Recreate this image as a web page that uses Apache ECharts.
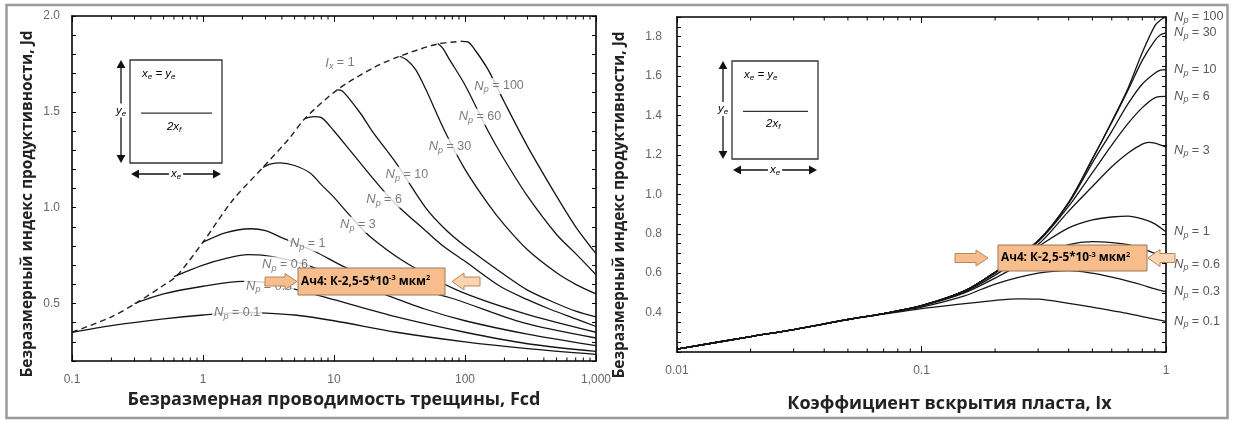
<!DOCTYPE html>
<html>
<head>
<meta charset="utf-8">
<script src="https://cdn.jsdelivr.net/npm/echarts@6/dist/echarts.min.js"></script>
<style>
html, body { margin: 0; padding: 0; background: #fff; }
#chart { width: 1233px; height: 421px; }
</style>
</head>
<body>
<div id="chart"></div>
<script>
// ---- left panel: Jd vs Fcd ([Fcd, Jd]) ----
const fcdTickLabels = ['0.1', '1', '10', '100', '1,000'];
const jdLeftTickLabels = ['0.5', '1.0', '1.5', '2.0'];

const envelopeIx1 = [[0.1,0.35],[0.2,0.43],[0.313,0.505],[0.5,0.595],[0.632,0.645],[1,0.82],[1.69,1.04],[2.87,1.21],[4.6,1.365],[6,1.465],[10.6,1.615],[20,1.73],[31.7,1.79],[62,1.854],[95,1.868]];
const fcdNp100 = [[95,1.868],[105,1.865],[120,1.82],[150,1.72],[200,1.55],[300,1.32],[500,1.06],[700,0.9],[1000,0.76]];
const fcdNp60 = [[62,1.856],[68,1.83],[75,1.78],[100,1.64],[150,1.4],[200,1.25],[300,1.06],[500,0.86],[700,0.76],[1000,0.65]];
const fcdNp30 = [[31.7,1.79],[36,1.77],[42,1.72],[50,1.62],[70,1.4],[100,1.2],[150,1.02],[200,0.91],[300,0.78],[500,0.66],[700,0.6],[1000,0.55]];
const fcdNp10 = [[10.6,1.615],[11.5,1.61],[13,1.57],[16,1.49],[20,1.39],[30,1.23],[50,1.0],[70,0.89],[100,0.8],[200,0.65],[300,0.57],[500,0.5],[700,0.46],[1000,0.43]];
const fcdNp6 = [[6,1.465],[7,1.475],[8,1.47],[10,1.4],[13.2,1.3],[22.4,1.11],[31.7,1.0],[50,0.88],[68,0.8],[100,0.72],[185,0.59],[300,0.52],[446,0.47],[700,0.42],[1000,0.38]];
const fcdNp3 = [[2.87,1.21],[3.3,1.228],[3.9,1.234],[5,1.22],[6.6,1.18],[8,1.12],[9.8,1.06],[13.2,0.96],[18.8,0.85],[36,0.71],[87,0.57],[277,0.45],[1000,0.35]];
const fcdNp1 = [[1,0.82],[1.5,0.87],[2.3,0.89],[3,0.88],[4.1,0.84],[7.2,0.77],[13,0.68],[30,0.6],[77,0.53],[277,0.4],[1000,0.32]];
const fcdNp06 = [[0.6,0.64],[1,0.7],[1.5,0.735],[2.2,0.755],[3,0.75],[5,0.72],[10,0.65],[20,0.57],[50,0.47],[100,0.41],[300,0.34],[1000,0.28]];
const fcdNp03 = [[0.3,0.5],[0.5,0.55],[1,0.59],[2,0.615],[3,0.61],[5,0.575],[10,0.52],[30,0.43],[100,0.35],[300,0.29],[1000,0.25]];
const fcdNp01 = [[0.1,0.35],[0.2,0.385],[0.5,0.42],[1,0.44],[2,0.452],[3,0.45],[5,0.44],[10,0.41],[30,0.35],[100,0.3],[300,0.265],[1000,0.235]];

const leftLabelNp = ['100', '60', '30', '10', '6', '3', '1', '0.6', '0.3', '0.1'];
const leftLabelAt = [[182,1.635],[130,1.474],[76.8,1.318],[36,1.172],[24.1,1.042],[15.2,0.911],[6.3,0.8125],[4.23,0.703],[3.19,0.589],[1.82,0.453]];
const ixLabelAt = [11.1, 1.755];

// ---- right panel: Jd vs Ix ([Ix, Jd]) ----
const ixTickLabels = ['0.01', '0.1', '1'];
const jdRightTickLabels = ['0.4', '0.6', '0.8', '1.0', '1.2', '1.4', '1.6', '1.8'];

const ixNp100 = [[0.01,0.215],[0.02,0.278],[0.03,0.314],[0.05,0.365],[0.07,0.395],[0.1,0.435],[0.15,0.51],[0.2,0.605],[0.3,0.765],[0.4,0.96],[0.5,1.18],[0.6,1.37],[0.7,1.54],[0.8,1.72],[0.9,1.855],[0.95,1.885],[1,1.9]];
const ixNp30 = [[0.01,0.215],[0.02,0.278],[0.03,0.314],[0.05,0.365],[0.07,0.395],[0.1,0.435],[0.15,0.51],[0.2,0.605],[0.3,0.765],[0.4,0.96],[0.5,1.18],[0.6,1.365],[0.7,1.53],[0.8,1.68],[0.9,1.78],[0.95,1.81],[1,1.82]];
const ixNp10 = [[0.01,0.215],[0.02,0.278],[0.03,0.314],[0.05,0.365],[0.07,0.395],[0.1,0.435],[0.15,0.51],[0.2,0.605],[0.3,0.765],[0.4,0.955],[0.5,1.16],[0.6,1.32],[0.7,1.46],[0.8,1.56],[0.9,1.615],[0.95,1.63],[1,1.633]];
const ixNp6 = [[0.01,0.215],[0.02,0.278],[0.03,0.314],[0.05,0.365],[0.07,0.395],[0.1,0.435],[0.15,0.51],[0.2,0.605],[0.3,0.76],[0.4,0.94],[0.5,1.11],[0.6,1.25],[0.7,1.36],[0.8,1.44],[0.9,1.49],[1,1.497]];
const ixNp3 = [[0.01,0.215],[0.02,0.278],[0.03,0.314],[0.05,0.365],[0.07,0.395],[0.1,0.435],[0.15,0.51],[0.2,0.6],[0.3,0.745],[0.4,0.915],[0.5,1.04],[0.6,1.14],[0.7,1.21],[0.8,1.255],[0.85,1.264],[0.9,1.26],[1,1.24]];
const ixNp1 = [[0.01,0.215],[0.02,0.278],[0.03,0.314],[0.05,0.365],[0.07,0.395],[0.1,0.435],[0.15,0.505],[0.2,0.59],[0.3,0.735],[0.4,0.83],[0.5,0.87],[0.6,0.885],[0.7,0.89],[0.8,0.875],[0.9,0.85],[1,0.81]];
const ixNp06 = [[0.01,0.215],[0.02,0.278],[0.03,0.314],[0.05,0.365],[0.07,0.395],[0.1,0.433],[0.15,0.5],[0.2,0.575],[0.3,0.69],[0.4,0.745],[0.5,0.76],[0.6,0.755],[0.7,0.745],[0.8,0.725],[0.9,0.7],[1,0.68]];
const ixNp03 = [[0.01,0.215],[0.02,0.278],[0.03,0.314],[0.05,0.365],[0.07,0.395],[0.1,0.428],[0.15,0.485],[0.2,0.545],[0.3,0.6],[0.4,0.613],[0.5,0.6],[0.6,0.58],[0.7,0.56],[0.8,0.54],[0.9,0.52],[1,0.506]];
const ixNp01 = [[0.01,0.215],[0.02,0.278],[0.03,0.314],[0.05,0.365],[0.07,0.392],[0.1,0.42],[0.15,0.445],[0.2,0.462],[0.25,0.47],[0.3,0.468],[0.4,0.447],[0.5,0.428],[0.6,0.41],[0.7,0.395],[0.8,0.38],[0.9,0.367],[1,0.355]];

// minor log ticks 2..9 in each decade
const minorMultiples = [2, 3, 4, 5, 6, 7, 8, 9];
const fcdDecades = [0.1, 1, 10, 100];
const ixDecades = [0.01, 0.1];

const GRAY = '#5a5a5a';
const tickFont = 'Liberation Sans';
const nameFont = 'Open Sans';

const npRich = {
    n: { fontStyle: 'italic', fontSize: 13, color: GRAY, fontFamily: tickFont, lineHeight: 16 },
    p: { fontStyle: 'italic', fontSize: 9, color: GRAY, fontFamily: tickFont, lineHeight: 16, verticalAlign: 'bottom' },
    t: { fontSize: 12.5, color: GRAY, fontFamily: tickFont, lineHeight: 16 }
};
function npText(v) { return '{n|N}{p|p}{t| = ' + v + '}'; }

function logLabel(labels, offset) {
    return function (v) {
        const i = Math.round(Math.log10(v)) + offset;
        return labels[i] || '';
    };
}
function stepLabel(labels) {
    return function (v) {
        if (Math.abs(v * 10 - Math.round(v * 10)) > 1e-6) return '';
        const s = v.toFixed(1);
        return labels.indexOf(s) >= 0 ? s : '';
    };
}

const axisLine = { show: true, onZero: false, lineStyle: { color: '#000', width: 1.6 } };

function xLog(grid, min, max, pos, labels, offset, extra) {
    return Object.assign({
        type: 'log', logBase: 10, gridIndex: grid, min: min, max: max, position: pos,
        axisLine: axisLine,
        axisTick: { show: true, inside: true, length: 6, lineStyle: { color: '#000', width: 1 } },
        axisLabel: labels ? { show: true, margin: 13, color: '#666', fontSize: 12, fontFamily: tickFont, formatter: logLabel(labels, offset) } : { show: false },
        splitLine: { show: false }
    }, extra || {});
}
function yVal(grid, min, max, interval, pos, labels, margin) {
    return {
        type: 'value', gridIndex: grid, min: min, max: max, interval: interval, position: pos,
        axisLine: axisLine,
        axisTick: { show: true, inside: true, length: 4, lineStyle: { color: '#000', width: 1 } },
        axisLabel: labels ? { show: true, margin: margin, color: '#666', fontSize: 12, fontFamily: tickFont, formatter: stepLabel(labels) } : { show: false },
        splitLine: { show: false }
    };
}

function curve(data, xi, extra) {
    return Object.assign({
        type: 'line', xAxisIndex: xi, yAxisIndex: xi, data: data,
        showSymbol: false, symbol: 'none', smooth: 0.3, silent: true,
        lineStyle: { color: '#151515', width: 1.3 }
    }, extra || {});
}
function rightCurve(data, np, offsetY) {
    return curve(data, 2, {
        endLabel: { show: true, formatter: npText(np), distance: 8, offset: [0, offsetY || 0], rich: npRich }
    });
}

function minorTicks(xi, decades, yAt) {
    const vals = [];
    decades.forEach(d => minorMultiples.forEach(m => vals.push([d * m, yAt])));
    return {
        type: 'custom', xAxisIndex: xi, yAxisIndex: xi, data: vals, silent: true, clip: false, z: 5,
        renderItem: function (params, api) {
            const x = api.coord([api.value(0), yAt])[0];
            const cs = params.coordSys;
            const st = { stroke: '#000', lineWidth: 1 };
            return { type: 'group', children: [
                { type: 'line', shape: { x1: x, y1: cs.y + cs.height, x2: x, y2: cs.y + cs.height - 3.5 }, style: st },
                { type: 'line', shape: { x1: x, y1: cs.y, x2: x, y2: cs.y + 3.5 }, style: st }
            ] };
        }
    };
}

// ---- decorations: inset sketches, orange annotations, frame, axis titles ----
function arrowHead(x, y, dir, s) {
    const pts = {
        up: [[x, y], [x - s * 0.55, y + s], [x + s * 0.55, y + s]],
        down: [[x, y], [x - s * 0.55, y - s], [x + s * 0.55, y - s]],
        left: [[x, y], [x + s, y - s * 0.55], [x + s, y + s * 0.55]],
        right: [[x, y], [x - s, y - s * 0.55], [x - s, y + s * 0.55]]
    }[dir];
    return { type: 'polygon', shape: { points: pts }, style: { fill: '#111' } };
}
const insetRich = {
    v: { fontStyle: 'italic', fontSize: 11.5, color: '#666', fontFamily: tickFont, lineHeight: 14 },
    s: { fontStyle: 'italic', fontSize: 8, color: '#666', fontFamily: tickFont, lineHeight: 14, verticalAlign: 'bottom' }
};
function inset(bx, by, bw, bh) {
    const ax = bx - 9, ay = by + bh + 11;
    return [
        { type: 'rect', shape: { x: bx, y: by, width: bw, height: bh }, style: { fill: 'none', stroke: '#333', lineWidth: 1.3 } },
        { type: 'text', x: bx + 12, y: by + 14, style: { text: '{v|x}{s|e}{v| = y}{s|e}', rich: insetRich, verticalAlign: 'middle' } },
        { type: 'line', shape: { x1: bx + 11, y1: by + bh * 0.515, x2: bx + bw - 10, y2: by + bh * 0.515 }, style: { stroke: '#333', lineWidth: 1.2 } },
        { type: 'text', x: bx + bw * 0.48, y: by + bh * 0.645, style: { text: '{v|2x}{s|f}', rich: insetRich, align: 'center', verticalAlign: 'middle' } },
        { type: 'line', shape: { x1: ax, y1: by + 6, x2: ax, y2: by + bh - 6 }, style: { stroke: '#111', lineWidth: 1.3 } },
        arrowHead(ax, by, 'up', 8), arrowHead(ax, by + bh, 'down', 8),
        { type: 'text', x: ax, y: by + bh * 0.49, style: { text: '{v|y}{s|e}', rich: insetRich, align: 'center', verticalAlign: 'middle', backgroundColor: '#fff' } },
        { type: 'line', shape: { x1: bx + 8, y1: ay, x2: bx + bw - 8, y2: ay }, style: { stroke: '#111', lineWidth: 1.3 } },
        arrowHead(bx + 1, ay, 'left', 8), arrowHead(bx + bw - 1, ay, 'right', 8),
        { type: 'text', x: bx + bw * 0.5, y: ay, style: { text: '{v|x}{s|e}', rich: insetRich, align: 'center', verticalAlign: 'middle', backgroundColor: '#fff', padding: [0, 2] } }
    ];
}
function blockArrow(x0, x1, cy, hh, bhh, hl, pointRight, fill) {
    const pts = pointRight
        ? [[x0, cy - bhh], [x1 - hl, cy - bhh], [x1 - hl, cy - hh], [x1, cy], [x1 - hl, cy + hh], [x1 - hl, cy + bhh], [x0, cy + bhh]]
        : [[x1, cy - bhh], [x0 + hl, cy - bhh], [x0 + hl, cy - hh], [x0, cy], [x0 + hl, cy + hh], [x0 + hl, cy + bhh], [x1, cy + bhh]];
    return { type: 'polygon', z: 100, shape: { points: pts }, style: { fill: fill, stroke: '#b8865c', lineWidth: 1 } };
}
const annotRich = {
    b: { fontWeight: 'bold', fontSize: 11.8, color: '#2b2118', fontFamily: nameFont, lineHeight: 15 },
    s: { fontWeight: 'bold', fontSize: 7.5, color: '#2b2118', fontFamily: nameFont, lineHeight: 15, verticalAlign: 'top' }
};
function annotation(bx, by, bw, bh, lx0, lx1, rx0, rx1) {
    const cy = by + bh / 2;
    return [
        blockArrow(lx0, lx1, cy, 8, 4.5, 12, true, '#f8bd8c'),
        blockArrow(rx0, rx1, cy, 8.5, 4.5, 12, false, '#fbd4b2'),
        { type: 'rect', z: 100, shape: { x: bx, y: by, width: bw, height: bh }, style: { fill: '#f8bd8c', stroke: '#9a7657', lineWidth: 1 } },
        { type: 'text', z: 101, x: bx + 3, y: cy, style: { text: '{b|Ач4: К-2,5-5*10}{s|-3}{b| мкм}{s|2}', rich: annotRich, verticalAlign: 'middle' } }
    ];
}
function yTitle(x, y) {
    return { type: 'text', x: x, y: y, rotation: Math.PI / 2,
        style: { text: 'Безразмерный индекс продуктивности, Jd', fontFamily: nameFont, fontWeight: 'bold', fontSize: 15.5, fill: '#222', align: 'center', verticalAlign: 'middle' } };
}

const graphics = [].concat(
    [{ type: 'rect', shape: { x: 6.5, y: 5, width: 1221, height: 413 }, style: { fill: 'none', stroke: '#9b9b9b', lineWidth: 2.5 } }],
    [yTitle(28, 204), yTitle(620, 205)],
    inset(130, 60, 92, 103),
    inset(732, 61, 86, 98),
    annotation(298, 268, 147, 27, 265, 297, 452, 480),
    annotation(998, 245, 149, 26, 955, 988, 1148, 1175)
);

const chart = echarts.init(document.getElementById('chart'));
chart.setOption({
    animation: false,
    backgroundColor: '#fff',
    grid: [
        { left: 72, top: 16, width: 524, height: 345 },
        { left: 677, top: 17, width: 489, height: 335 }
    ],
    xAxis: [
        xLog(0, 0.1, 1000, 'bottom', fcdTickLabels, 1, {
            name: 'Безразмерная проводимость трещины, Fcd', nameLocation: 'middle', nameGap: 29,
            nameTextStyle: { fontFamily: nameFont, fontWeight: 'bold', fontSize: 18, color: '#222' }
        }),
        xLog(0, 0.1, 1000, 'top', null, 0),
        xLog(1, 0.01, 1, 'bottom', ixTickLabels, 2, {
            name: 'Коэффициент вскрытия пласта, Ix', nameLocation: 'middle', nameGap: 43,
            nameTextStyle: { fontFamily: nameFont, fontWeight: 'bold', fontSize: 18, color: '#222', padding: [0, 0, 0, 56] }
        }),
        xLog(1, 0.01, 1, 'top', null, 0)
    ],
    yAxis: [
        yVal(0, 0.2, 2.0, 0.1, 'left', jdLeftTickLabels, 12),
        yVal(0, 0.2, 2.0, 0.1, 'right', null),
        yVal(1, 0.2, 1.9, 0.05, 'left', jdRightTickLabels, 15),
        yVal(1, 0.2, 1.9, 0.05, 'right', null)
    ],
    graphic: graphics,
    series: [
        curve(envelopeIx1, 0, { lineStyle: { color: '#222', width: 1.4, type: [6, 4] } }),
        curve(fcdNp100, 0), curve(fcdNp60, 0), curve(fcdNp30, 0), curve(fcdNp10, 0), curve(fcdNp6, 0),
        curve(fcdNp3, 0), curve(fcdNp1, 0), curve(fcdNp06, 0), curve(fcdNp03, 0), curve(fcdNp01, 0),
        {
            type: 'scatter', xAxisIndex: 0, yAxisIndex: 0, silent: true, symbolSize: 1, z: 10,
            itemStyle: { color: 'transparent' },
            data: leftLabelAt.map((p, i) => ({ value: p, text: npText(leftLabelNp[i]) }))
                .concat([{ value: ixLabelAt, text: '{n|I}{p|x}{t| = 1}' }]),
            label: {
                show: true, position: 'inside', backgroundColor: '#fff', padding: [0, 2],
                formatter: p => p.data.text, rich: npRich
            }
        },
        minorTicks(0, fcdDecades, 1),
        rightCurve(ixNp100, '100'), rightCurve(ixNp30, '30'), rightCurve(ixNp10, '10'),
        rightCurve(ixNp6, '6'), rightCurve(ixNp3, '3', 3), rightCurve(ixNp1, '1'),
        rightCurve(ixNp06, '0.6', 7), rightCurve(ixNp03, '0.3'), rightCurve(ixNp01, '0.1'),
        minorTicks(2, ixDecades, 1)
    ]
});
</script>
</body>
</html>
